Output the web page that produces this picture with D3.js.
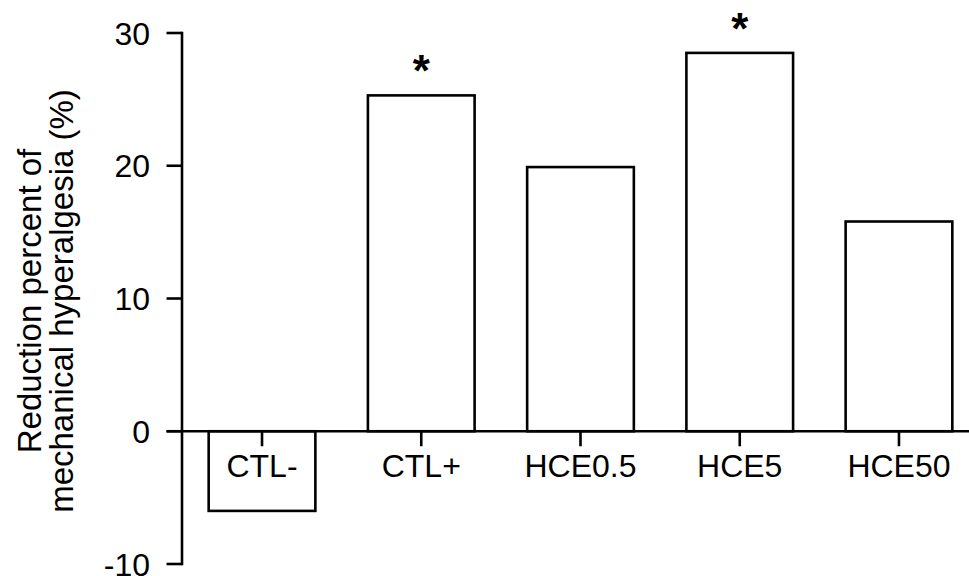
<!DOCTYPE html>
<html>
<head>
<meta charset="utf-8">
<script src="https://cdn.jsdelivr.net/npm/d3@7"></script>
<style>
  html, body { margin: 0; padding: 0; background: #fff; }
  svg { display: block; }
  text { font-family: "Liberation Sans", Arial, sans-serif; fill: #000; }
</style>
</head>
<body>
<svg id="chart" width="969" height="576"></svg>
<script>
const categories = ["CTL-", "CTL+", "HCE0.5", "HCE5", "HCE50"];
const values = [-6.0, 25.3, 19.9, 28.5, 15.8];
const significant = [false, true, false, true, false];
const yTicks = [-10, 0, 10, 20, 30];
const yLabelLines = ["Reduction percent of", "mechanical hyperalgesia (%)"];

const svg = d3.select("#chart");
const W = 969, H = 576;
const axisX = 182;
const lw = 2.6;

const y = d3.scaleLinear().domain([-10, 30]).range([564, 33]);
const x = d3.scaleBand().domain(categories)
  .range([182.4, 978.6]).paddingInner(0.33).paddingOuter(0.165);

// bars
svg.append("g").selectAll("rect").data(values).join("rect")
  .attr("x", (d, i) => x(categories[i]))
  .attr("width", x.bandwidth())
  .attr("y", d => y(Math.max(0, d)))
  .attr("height", d => Math.abs(y(d) - y(0)))
  .attr("fill", "#fff")
  .attr("stroke", "#000")
  .attr("stroke-width", lw);

// x axis (zero line) with downward ticks
const xAxis = svg.append("g").attr("transform", `translate(0,${y(0)})`);
xAxis.append("line").attr("x1", 166.5).attr("x2", W + 10)
  .attr("stroke", "#000").attr("stroke-width", lw);
xAxis.selectAll("line.tick").data(categories).join("line")
  .attr("class", "tick")
  .attr("x1", d => x(d) + x.bandwidth() / 2)
  .attr("x2", d => x(d) + x.bandwidth() / 2)
  .attr("y1", 0).attr("y2", 15)
  .attr("stroke", "#000").attr("stroke-width", lw);
xAxis.selectAll("text").data(categories).join("text")
  .attr("x", d => x(d) + x.bandwidth() / 2)
  .attr("y", 45.5)
  .attr("text-anchor", "middle")
  .attr("font-size", 32)
  .text(d => d);

// y axis
const yAxis = svg.append("g").attr("transform", `translate(${axisX},0)`);
yAxis.append("line").attr("x1", 0).attr("x2", 0)
  .attr("y1", y(30) - lw / 2).attr("y2", y(-10) + lw / 2)
  .attr("stroke", "#000").attr("stroke-width", lw);
yAxis.selectAll("line.tick").data(yTicks).join("line")
  .attr("class", "tick")
  .attr("x1", -15.5).attr("x2", 0)
  .attr("y1", d => y(d)).attr("y2", d => y(d))
  .attr("stroke", "#000").attr("stroke-width", lw);
yAxis.selectAll("text").data(yTicks).join("text")
  .attr("x", -32)
  .attr("y", d => y(d))
  .attr("dy", "0.36em")
  .attr("text-anchor", "end")
  .attr("font-size", 32)
  .text(d => d);

// y label
const labelX = [41, 73];
yLabelLines.forEach((t, i) => {
  svg.append("text")
    .attr("transform", `translate(${labelX[i]},301) rotate(-90)`)
    .attr("text-anchor", "middle")
    .attr("font-size", 33)
    .text(t);
});

// significance stars
svg.append("g").selectAll("text").data(values.map((v, i) => ({v, i})).filter(d => significant[d.i])).join("text")
  .attr("x", d => x(categories[d.i]) + x.bandwidth() / 2)
  .attr("y", d => y(d.v) - 9)
  .attr("text-anchor", "middle")
  .attr("font-size", 44)
  .attr("font-weight", "bold")
  .text("*");
</script>
</body>
</html>
